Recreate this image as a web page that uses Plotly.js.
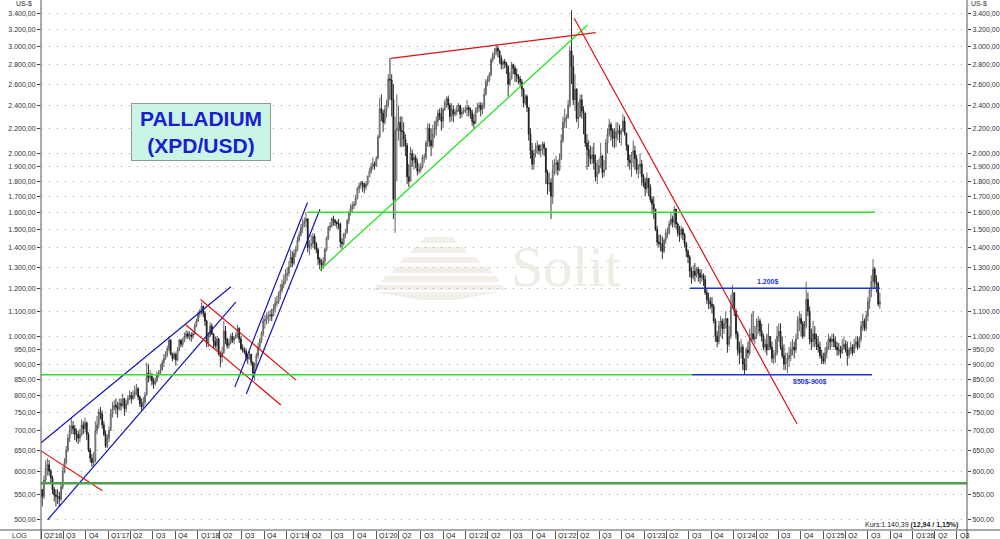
<!DOCTYPE html>
<html><head><meta charset="utf-8">
<script src="https://cdn.plot.ly/plotly-3.0.1.min.js"></script>
<style>html,body{margin:0;padding:0;background:#fff}#chart{width:1000px;height:539px}</style>
</head><body><div id="chart"></div>
<script>
// ---- weekly palladium candles (USD) ----
const firstWeek = '2016-04-06';
const firstOpen = 560;
const closes2016 = [545,580,605,615, 600,585,560,548,545, 545,540,565,600, 620,650,680,700, 712,705,690,690,680, 690,715,705,720, 690,650,630,620,625, 700,715,750,745, 715,690,660,680];
const highs2016  = [560,590,625,630, 626,605,590,565,560, 560,555,575,610, 630,660,690,715, 735,725,715,705,700, 705,730,725,735, 725,695,655,640,645, 725,740,760,765, 755,725,700,690];
const lows2016   = [525,540,575,590, 590,575,550,535,525, 530,525,535,560, 595,615,645,670, 690,690,675,670,665, 670,685,690,695, 675,645,620,610,612, 620,690,705,730, 705,685,655,655];
const closes2017 = [700,745,760,770,765, 760,775,770,790, 760,775,790,800, 790,800,810,820, 795,775,765,780,800, 870,855,860,845, 835,845,865,870,880, 905,920,935,955, 985,935,920,935, 915,950,985,970,980, 1000,1010,1000,1005, 1000,1010,1040,1060];
const highs2017  = [710,760,780,785,790, 780,790,790,805, 790,785,800,815, 810,815,830,835, 825,800,790,795,810, 905,900,880,870, 855,855,875,880,900, 915,935,945,965, 1000,990,940,945, 940,960,990,990,995, 1015,1025,1020,1020, 1015,1020,1050,1070];
const lows2017   = [670,700,735,755,745, 735,755,755,765, 740,750,770,785, 775,785,790,800, 785,765,755,760,770, 800,840,845,830, 820,830,840,855,865, 880,890,915,925, 945,930,910,915, 895,910,945,960,960, 980,990,990,985, 980,990,1005,1035];
const closes2018 = [1090,1100,1120,1090,1060, 975,1000,1040,1010, 980,965,990,935, 925,940,1020,990,965, 975,1000,985,995, 1005,1030,990,955, 950,945,925,920,935, 905,870,900,930, 960,985,1010,1060, 1065,1080,1080,1085,1080, 1110,1135,1140,1170, 1190,1215,1230,1260,1270];
const highs2018  = [1100,1110,1138,1125,1100, 1065,1015,1055,1050, 1010,1000,1000,995, 945,960,1060,1040,995, 990,1010,1015,1000, 1015,1045,1035,1000, 970,960,955,935,945, 935,910,905,940, 975,995,1020,1075, 1085,1095,1100,1105,1110, 1130,1160,1165,1185, 1220,1240,1265,1290,1300];
const lows2018   = [1055,1075,1085,1075,1040, 960,960,1000,1005, 955,955,950,930, 890,905,935,970,955, 955,970,975,970, 990,995,975,950, 940,935,910,900,915, 895,855,845,890, 920,950,975,1000, 1030,1045,1050,1060,1060, 1080,1095,1120,1130, 1150,1180,1200,1220,1235];
const closes2019 = [1300,1350,1320,1370, 1390,1440,1470,1510, 1530,1545,1560,1400, 1410,1420,1460,1420,1390, 1340,1320,1310,1330, 1390,1450,1510,1520, 1560,1550,1540,1530,1530, 1430,1420,1470,1480, 1550,1600,1620,1640,1650, 1690,1750,1770,1790, 1780,1760,1780,1830, 1870,1900,1920,1910,1960];
const highs2019  = [1330,1390,1380,1390, 1410,1460,1490,1530, 1560,1570,1600,1565, 1440,1470,1480,1475,1430, 1400,1350,1340,1350, 1400,1460,1520,1540, 1570,1580,1560,1550,1560, 1540,1450,1480,1500, 1560,1610,1650,1665,1670, 1710,1760,1790,1800, 1800,1790,1800,1840, 1890,1930,1970,1940,1980];
const lows2019   = [1255,1300,1300,1310, 1350,1380,1430,1460, 1480,1510,1510,1375, 1360,1390,1400,1390,1370, 1310,1290,1280,1290, 1310,1380,1440,1490, 1510,1520,1520,1505,1500, 1400,1390,1410,1450, 1480,1530,1580,1600,1620, 1640,1680,1720,1750, 1730,1720,1740,1770, 1830,1850,1880,1880,1900];
const closes2020 = [2130,2370,2330,2250, 2360,2400,2650,2640, 2450,1680,2180,2200,2250, 2180,2170,2110,2060, 1830,1800,2000,1950, 1970,1930,1870,1880,1900, 1970,1970,2080,2200, 2100,2060,2150,2190,2260, 2330,2300,2260,2360, 2420,2460,2400,2300, 2360,2320,2340,2360,2400, 2320,2340,2350,2360];
const highs2020  = [2150,2470,2500,2360, 2400,2450,2700,2870, 2700,2600,2300,2500,2400, 2300,2300,2250,2150, 2080,1920,2050,2030, 2000,1990,1960,1920,1930, 1990,2000,2100,2240, 2240,2200,2230,2260,2300, 2360,2370,2380,2380, 2450,2480,2490,2420, 2420,2400,2370,2400,2420, 2380,2380,2380,2390];
const lows2020   = [1960,2120,2260,2170, 2230,2290,2380,2450, 2300,1560,1480,1800,2100, 2050,2050,2050,1980, 1780,1760,1800,1900, 1880,1890,1840,1850,1860, 1890,1930,1950,2050, 2050,1980,2040,2120,2140, 2220,2270,2180,2200, 2350,2380,2360,2250, 2260,2250,2300,2310,2340, 2280,2290,2320,2330];
const closes2021 = [2380,2360,2330,2260, 2240,2350,2380,2400, 2360,2380,2500,2620,2640, 2690,2850,2900,2930, 2980,2950,2870,2800,2830, 2810,2780,2600,2650, 2800,2760,2700,2680, 2650,2620,2550,2420,2480, 2380,2150,2020,1920, 2000,2030,2060,2020, 2030,2070,2040,1860,1780, 1790,1700,1870,1920];
const highs2021  = [2450,2400,2380,2360, 2320,2380,2420,2430, 2430,2420,2560,2650,2680, 2720,2870,2930,2980, 3020,3000,2960,2900,2850, 2860,2830,2790,2720, 2830,2810,2790,2760, 2700,2680,2650,2560,2500, 2500,2350,2200,2080, 2030,2080,2100,2070, 2070,2090,2090,2040,1880, 1860,1820,1950,1960];
const lows2021   = [2300,2300,2280,2220, 2200,2240,2330,2340, 2300,2320,2370,2490,2580, 2620,2680,2820,2860, 2900,2880,2810,2750,2750, 2760,2700,2480,2580, 2650,2700,2620,2620, 2600,2580,2480,2380,2400, 2340,2100,1960,1880, 1880,1970,2000,1990, 1970,1990,1980,1780,1710, 1730,1560,1650,1840];
const closes2022 = [1930,1880,1960,2100,2250, 2280,2290,2400,2950, 2780,2450,2550,2280, 2300,2450,2350,2330, 2080,2030,1980,1960,1990, 1930,1830,1860,1910, 1980,1860,1880,2080, 2150,2230,2180,2120,2120, 2170,2180,2150,2180, 2260,2160,2060,1950,1930, 1990,2020,1960,1880, 1900,1920,1830,1790];
const highs2022  = [1980,1950,2000,2150,2300, 2370,2320,2450,3000, 3440,2900,2700,2560, 2430,2500,2500,2390, 2320,2150,2100,2060,2050, 2080,1990,1950,1960, 2080,1990,1950,2110, 2200,2280,2250,2200,2200, 2250,2250,2230,2200, 2320,2300,2150,2070,1990, 2010,2100,2060,1990, 1920,2000,1950,1850];
const lows2022   = [1850,1840,1870,1950,2080, 2200,2200,2280,2380, 2600,2400,2350,2250, 2200,2300,2280,2150, 2050,1880,1900,1920,1920, 1880,1800,1780,1850, 1890,1820,1830,1880, 2000,2130,2100,2050,2040, 2050,2100,2080,2060, 2170,2140,2020,1900,1880, 1830,1900,1880,1850, 1820,1850,1770,1760];
const closes2023 = [1750,1820,1760,1680,1650, 1620,1500,1430,1420, 1420,1380,1440,1480, 1480,1530,1560,1540, 1620,1530,1480,1470,1500, 1470,1420,1380,1350, 1280,1250,1280,1260,1290, 1270,1250,1260,1240, 1180,1150,1140,1130, 1120,1060,1000,980,1040, 1060,1030,1050,1070, 970,1000,1120,1180];
const highs2023  = [1820,1860,1810,1780,1700, 1700,1620,1520,1470, 1470,1460,1450,1500, 1510,1550,1600,1580, 1640,1620,1540,1520,1520, 1510,1480,1430,1390, 1360,1300,1310,1320,1300, 1300,1290,1290,1270, 1260,1200,1180,1160, 1160,1130,1070,1020,1060, 1080,1070,1070,1100, 1070,1040,1170,1215];
const lows2023   = [1700,1720,1700,1660,1590, 1560,1490,1410,1400, 1380,1340,1370,1420, 1450,1470,1520,1510, 1510,1500,1460,1430,1450, 1440,1400,1350,1320, 1250,1220,1240,1230,1250, 1230,1220,1230,1210, 1170,1130,1110,1110, 1090,1050,980,960,970, 1000,990,1010,1030, 940,960,990,1110];
const closes2024 = [1100,1010,950,940,960, 900,880,950,940, 990,1010,990,1000, 1040,1060,1020,1000,960, 970,950,1000,960, 920,930,940,1000, 1020,960,930,900,910, 920,930,950,960, 950,990,1060,1070,1050, 1000,1040,1150,1100, 990,980,1010,990, 970,960,930,920,910];
const highs2024  = [1180,1110,1020,980,990, 970,920,960,980, 1030,1090,1100,1040, 1070,1080,1070,1050,1010, 990,1010,1050,1000, 980,950,990,1040, 1050,1050,1000,970,940, 940,960,980,990, 980,1010,1080,1100,1090, 1060,1060,1230,1180, 1120,1030,1060,1040, 1010,1000,980,950,940];
const lows2024   = [1080,990,930,900,920, 880,865,880,920, 930,980,980,970, 990,1010,1000,980,950, 940,930,950,950, 905,900,905,930, 980,950,920,880,880, 870,890,910,930, 920,940,990,1020,1000, 990,1000,1030,1080, 970,950,960,960, 950,940,920,900,900];
const closes2025 = [940,960,990,980, 990,980,960,950, 950,940,960,970,950, 930,950,960,940, 970,980,960,990, 1040,1060,1030,1080,1140, 1190,1230,1290,1230, 1220,1130,1140];
const highs2025  = [960,980,1010,1000, 1010,1010,1000,980, 975,965,990,1000,985, 980,960,980,970, 990,1000,1000,1000, 1060,1090,1070,1100,1160, 1200,1260,1340,1300, 1260,1230,1180];
const lows2025   = [900,920,950,950, 960,960,950,930, 930,920,935,950,940, 895,920,935,930, 940,955,950,955, 980,1020,1020,1020,1060, 1110,1160,1200,1200, 1180,1120,1110];

// axis ticks
const priceTicks = [500,550,600,650,700,750,800,850,900,950,1000,1100,1200,1300,1400,1500,1600,1700,1800,1900,2000,2200,2400,2600,2800,3000,3200,3400];
const quarterLabels = ["Q2'16","Q3","Q4","Q1'17","Q2","Q3","Q4","Q1'18","Q2","Q3","Q4","Q1'19","Q2","Q3","Q4","Q1'20","Q2","Q3","Q4","Q1'21","Q2","Q3","Q4","Q1'22","Q2","Q3","Q4","Q1'23","Q2","Q3","Q4","Q1'24","Q2","Q3","Q4","Q1'25","Q2","Q3","Q4","Q1'26","Q2","Q3"];

// drawn trend lines / levels (date, price)
const trendStartDate  = ['2016-04-01','2016-04-28','2016-04-01','2018-01-13','2017-11-10','2018-06-02','2018-07-19','2019-05-16','2020-03-01','2022-03-20','2023-07-06','2023-07-14','2016-04-01','2019-03-25','2016-04-01'];
const trendEndDate    = ['2018-05-17','2018-06-06','2016-12-08','2019-02-06','2018-12-07','2019-03-26','2019-05-16','2022-05-14','2022-06-16','2024-09-15','2025-08-20','2025-07-19','2023-07-14','2025-07-31','2026-08-11'];
const trendStartPrice = [668,499,648,1150,1048,825,804,1286,2867,3336,1200,865,865,1600,573];
const trendEndPrice   = [1207,1138,557,848,771,1661,1618,3252,3160,718,1200,865,865,1600,573];
const trendKind       = ['blue','blue','red','red','red','blue','blue','green','red','red','level','level','green2','green2','dark'];

// ---- build ----
const closes = [].concat(closes2016,closes2017,closes2018,closes2019,closes2020,closes2021,closes2022,closes2023,closes2024,closes2025);
const highsRaw = [].concat(highs2016,highs2017,highs2018,highs2019,highs2020,highs2021,highs2022,highs2023,highs2024,highs2025);
const lowsRaw = [].concat(lows2016,lows2017,lows2018,lows2019,lows2020,lows2021,lows2022,lows2023,lows2024,lows2025);
const opens = closes.map((c,i)=> i===0 ? firstOpen : closes[i-1]);
const highs = highsRaw.map((h,i)=>Math.max(h,opens[i],closes[i]));
const lows = lowsRaw.map((l,i)=>Math.min(l,opens[i],closes[i]));
const t0 = new Date(firstWeek+'T00:00:00Z');
const weeks = closes.map((_,i)=>{const d=new Date(t0.getTime()+i*7*86400000);return d.toISOString().slice(0,10);});
const quarterDates = quarterLabels.map((_,i)=>{const d=new Date(Date.UTC(2016,3+3*i,1));return d.toISOString().slice(0,10);});

const FONT = 'Liberation Sans, Arial, sans-serif';
const PL=41, PT=2, PW=926, PH=528;
const px = v => (v-PL)/PW;
const py = v => 1-(v-PT)/PH;

const styles = {
  blue:{color:'#1010b8',width:1.2}, red:{color:'#e01010',width:1.2}, green:{color:'#22e622',width:1.3},
  level:{color:'#1f33d6',width:1.5}, green2:{color:'#2ee02e',width:1.5}, dark:{color:'#4f9f4f',width:2.5}
};

const traces = [];
traces.push({
  type:'candlestick', x:weeks, open:opens, high:highs, low:lows, close:closes,
  increasing:{line:{color:'#555555',width:0.9}, fillcolor:'#ffffff'},
  decreasing:{line:{color:'#1a1a1a',width:0.9}, fillcolor:'#1a1a1a'},
  whiskerwidth:0, hoverinfo:'skip', showlegend:false
});
trendKind.forEach((k,i)=>{
  traces.push({type:'scatter', mode:'lines', x:[trendStartDate[i],trendEndDate[i]], y:[trendStartPrice[i],trendEndPrice[i]],
    line:styles[k], hoverinfo:'skip', showlegend:false, cliponaxis:true});
});
traces.push({type:'scatter', mode:'markers', x:[weeks[0]], y:[1000], yaxis:'y2', marker:{opacity:0}, hoverinfo:'skip', showlegend:false});

const yRange = [2.6814, 3.5501];
const annotations = [];
quarterLabels.forEach((lab,i)=>{
  annotations.push({xref:'x', yref:'paper', x:quarterDates[i], y:0, xanchor:'left', yanchor:'top', xshift:1, yshift:0,
    text:lab, showarrow:false, font:{family:FONT,size:7,color:'#222'}});
});
annotations.push(
  {xref:'paper', yref:'paper', x:px(201), y:py(131.5), xanchor:'center', yanchor:'middle',
   text:'<b>PALLADIUM</b><br><b>(XPD/USD)</b>', showarrow:false,
   font:{family:FONT,size:21,color:'#1c1cd2'}, bgcolor:'#c9f6e4', bordercolor:'#8c9a9a', borderwidth:1, borderpad:2,
   width:134, height:52, align:'center'},
  {xref:'paper', yref:'paper', x:px(566), y:py(266), xanchor:'center', yanchor:'middle', text:'Solit', showarrow:false,
   font:{family:'Liberation Serif, serif',size:58,color:'#efece5'}},
  {xref:'x', yref:'y', x:'2024-05-20', y:Math.log10(1200), xanchor:'center', yanchor:'bottom', yshift:0, text:'<b>1.200$</b>', showarrow:false,
   font:{family:FONT,size:7,color:'#1f33d6'}},
  {xref:'x', yref:'y', x:'2024-11-07', y:Math.log10(865), xanchor:'center', yanchor:'top', yshift:-1, text:'<b>850$-900$</b>', showarrow:false,
   font:{family:FONT,size:7,color:'#1f33d6'}},
  {xref:'paper', yref:'paper', x:px(34), y:py(3), xanchor:'right', yanchor:'middle', text:'US-$', showarrow:false,
   font:{family:FONT,size:7,color:'#333'}},
  {xref:'paper', yref:'paper', x:px(969), y:py(3), xanchor:'left', yanchor:'middle', text:'US-$', showarrow:false,
   font:{family:FONT,size:7,color:'#333'}},
  {xref:'paper', yref:'paper', x:px(19), y:py(535), xanchor:'center', yanchor:'middle', text:'LOG', showarrow:false,
   font:{family:FONT,size:7,color:'#333'}},
  {xref:'paper', yref:'paper', x:px(960), y:py(524.5), xanchor:'right', yanchor:'middle', text:'Kurs:1.140,39 <b>(12,94 / 1,15%)</b>', showarrow:false,
   font:{family:FONT,size:7,color:'#222'}}
);

// watermark pyramid bands (pixel → paper)
const bands = [[237,425,452,243,420,457],[247,415,463,253,410,468],[257,405,475,263,400,481],[267,396,488,273,391,493],[276,386,496,282,381,500],[285,377,502,290,372,505],[292,375,500,300,420,455]];
const shapes = bands.map(b=>({type:'path', xref:'paper', yref:'paper', layer:'below',
  path:`M ${px(b[1])} ${py(b[0])} L ${px(b[2])} ${py(b[0])} L ${px(b[5])} ${py(b[3])} L ${px(b[4])} ${py(b[3])} Z`,
  fillcolor:'#f2efe9', line:{width:0}}));
shapes.push(
  {type:'line', xref:'paper', yref:'paper', x0:px(0), x1:px(1000), y0:0, y1:0, line:{color:'#555',width:1}},
  {type:'line', xref:'paper', yref:'paper', x0:0, x1:0, y0:py(539), y1:py(0), line:{color:'#555',width:1}},
  {type:'line', xref:'paper', yref:'paper', x0:1, x1:1, y0:py(539), y1:py(0), line:{color:'#555',width:1}}
);

const yCommon = {type:'log', range:yRange, tickmode:'array', tickvals:priceTicks, tickformat:',.2f',
  ticks:'outside', ticklen:3, tickcolor:'#444', tickfont:{family:FONT,size:7,color:'#333'},
  showline:false, zeroline:false, fixedrange:true};

const layout = {
  width:1000, height:539, autosize:false,
  margin:{l:PL, r:1000-PL-PW, t:PT, b:539-PT-PH, pad:0},
  paper_bgcolor:'#ffffff', plot_bgcolor:'#ffffff',
  separators:',.', hovermode:false, showlegend:false,
  xaxis:{type:'date', range:['2016-04-01','2026-08-11'], tickmode:'array', tickvals:quarterDates, showticklabels:false,
    ticks:'outside', ticklen:9, tickcolor:'#555', showgrid:false, zeroline:false, showline:false,
    rangeslider:{visible:false}, fixedrange:true},
  yaxis:Object.assign({}, yCommon, {side:'left', showgrid:true, gridcolor:'#9a9a9a', gridwidth:1, griddash:'1px,7px'}),
  yaxis2:Object.assign({}, yCommon, {side:'right', overlaying:'y', showgrid:false}),
  annotations:annotations, shapes:shapes
};

Plotly.newPlot('chart', traces, layout, {displayModeBar:false, staticPlot:true});
</script></body></html>
